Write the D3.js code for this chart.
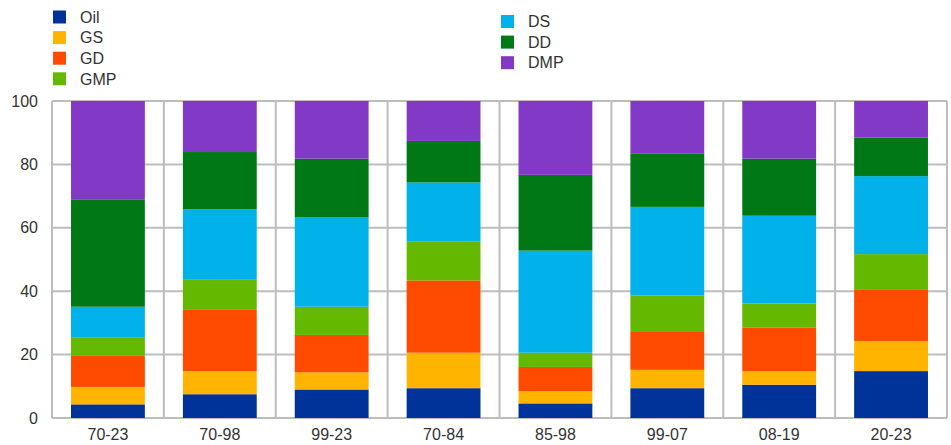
<!DOCTYPE html>
<html>
<head>
<meta charset="utf-8">
<script src="https://cdn.jsdelivr.net/npm/d3@7"></script>
<style>
  html, body { margin: 0; padding: 0; background: #fff; }
  svg { display: block; }
  text { font-family: "Liberation Sans", Arial, sans-serif; fill: #333; }
</style>
</head>
<body>
<svg id="chart" width="951" height="445"></svg>
<script>
const categories = ["70-23", "70-98", "99-23", "70-84", "85-98", "99-07", "08-19", "20-23"];
const seriesNames = ["Oil", "GS", "GD", "GMP", "DS", "DD", "DMP"];
const seriesColors = ["#003399", "#FFB400", "#FF4B00", "#65B800", "#00B1EA", "#007816", "#8139C6"];
const Oil = [4.3, 7.5, 9.0, 9.4, 4.6, 9.4, 10.5, 14.8];
const GS  = [5.5, 7.3, 5.4, 11.2, 3.9, 5.8, 4.3, 9.5];
const GD  = [9.8, 19.3, 11.8, 22.8, 7.6, 12.2, 13.8, 16.1];
const GMP = [5.9, 9.7, 8.9, 12.2, 4.5, 11.3, 7.5, 11.3];
const DS  = [9.6, 22.0, 28.3, 18.7, 32.2, 27.9, 27.7, 24.6];
const DD  = [33.9, 18.1, 18.4, 13.1, 23.9, 16.9, 18.0, 12.2];
const DMP = [31.0, 16.1, 18.2, 12.6, 23.3, 16.5, 18.2, 11.5];
const yTicks = [0, 20, 40, 60, 80, 100];

(function () {
const seriesValues = [Oil, GS, GD, GMP, DS, DD, DMP];
const table = categories.map((c, i) => {
  const row = { cat: c };
  seriesNames.forEach((s, j) => row[s] = seriesValues[j][i]);
  return row;
});

const svg = d3.select("#chart");
const pLeft = 52, pRight = 947, pTop = 101, pBottom = 418;

const x = d3.scaleBand().domain(categories).range([pLeft, pRight]).paddingInner(0).paddingOuter(0);
const y = d3.scaleLinear().domain([0, 100]).range([pBottom, pTop]);
const color = d3.scaleOrdinal().domain(seriesNames).range(seriesColors);

const gridColor = "#BDBDBD";

// horizontal gridlines
svg.append("g").selectAll("line").data(yTicks).join("line")
  .attr("x1", pLeft).attr("x2", pRight)
  .attr("y1", d => y(d)).attr("y2", d => y(d))
  .attr("stroke", gridColor).attr("stroke-width", 2);

// vertical gridlines (category boundaries)
const bounds = categories.map(c => x(c)).concat([pRight]);
svg.append("g").selectAll("line").data(bounds).join("line")
  .attr("x1", d => d).attr("x2", d => d)
  .attr("y1", pTop).attr("y2", pBottom)
  .attr("stroke", gridColor).attr("stroke-width", 2);

// stacked bars
const stacked = d3.stack().keys(seriesNames)(table);
const barW = x.bandwidth() * 0.66;

svg.append("g").selectAll("g").data(stacked).join("g")
  .attr("fill", d => color(d.key))
  .selectAll("rect").data(d => d).join("rect")
  .attr("x", d => x(d.data.cat) + (x.bandwidth() - barW) / 2)
  .attr("width", barW)
  .attr("y", d => y(d[1]))
  .attr("height", d => y(d[0]) - y(d[1]));

// y axis
const yAxis = d3.axisLeft(y).tickValues(yTicks).tickSize(0).tickPadding(14);
const gy = svg.append("g").attr("transform", `translate(${pLeft},0)`).call(yAxis);
gy.select(".domain").remove();
gy.selectAll("text").style("font-size", "16px").style("font-family", "'Liberation Sans', Arial, sans-serif").attr("fill", "#333");

// x axis
const xAxis = d3.axisBottom(x).tickSize(0).tickPadding(11);
const gx = svg.append("g").attr("transform", `translate(0,${pBottom})`).call(xAxis);
gx.select(".domain").remove();
gx.selectAll("text").style("font-size", "16px").style("font-family", "'Liberation Sans', Arial, sans-serif").attr("fill", "#333");

// legend
const legCols = [
  { names: seriesNames.slice(0, 4), x: 53, y0: 17 },
  { names: seriesNames.slice(4), x: 501, y0: 21.5 }
];
const rowH = 20.6;
legCols.forEach(col => {
  const g = svg.append("g");
  col.names.forEach((n, i) => {
    const cy = col.y0 + i * rowH;
    g.append("rect").attr("x", col.x).attr("y", cy - 6.5).attr("width", 13).attr("height", 13)
      .attr("fill", color(n));
    g.append("text").attr("x", col.x + 27).attr("y", cy).attr("dy", "0.36em")
      .style("font-size", "16px").text(n);
  });
});
})();
</script>
</body>
</html>
